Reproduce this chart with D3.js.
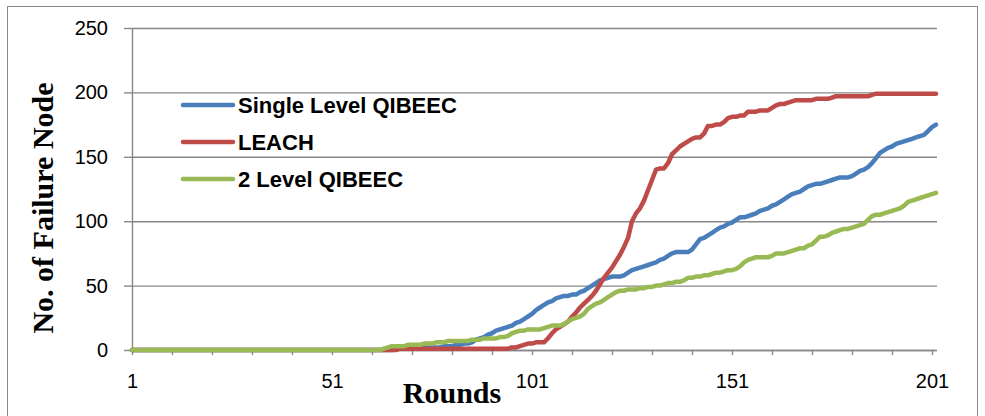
<!DOCTYPE html>
<html>
<head>
<meta charset="utf-8">
<script src="https://cdn.jsdelivr.net/npm/d3@7"></script>
<style>
  html, body { margin: 0; padding: 0; background: #fff; }
  svg { display: block; }
</style>
</head>
<body>
<svg id="chart" width="985" height="416"></svg>
<script>
// Failed nodes per round for each protocol (rounds 1..202)
const rounds = Array.from({ length: 202 }, (_, i) => i + 1);

const singleLevel = [
  0,0,0,0,0,0,0,0,0,0,0,0,0,0,0,0,0,0,0,0,0,0,0,0,0,0,0,0,0,0,0,0,0,0,0,0,0,0,0,0,
  0,0,0,0,0,0,0,0,0,0,0,0,0,0,0,0,0,0,0,0,0,0,0,
  0,0,0,1,1,1,1,
  1,1,2,2,2,2,2,2,3,3,
  3,4,4,5,5,6,8,
  9,10,12,13,15,16,17,
  18,19,21,22,24,26,28,
  31,33,35,37,38,40,41,42,42,
  43,43,45,46,48,50,52,54,55,56,
  57,57,57,58,60,
  62,63,64,65,66,67,68,70,71,73,
  75,76,76,76,76,
  78,82,86,
  87,89,91,93,95,96,98,
  99,101,103,103,104,
  105,106,108,109,110,
  112,113,115,117,119,121,122,123,
  125,127,128,129,129,130,131,
  132,133,134,134,134,135,137,
  139,140,142,145,149,153,155,157,
  158,160,161,162,163,164,165,166,167,170,173,175
];

const leach = [
  0,0,0,0,0,0,0,0,0,0,0,0,0,0,0,0,0,0,0,0,0,0,0,0,0,0,0,0,0,0,0,0,0,0,0,0,0,0,0,0,
  0,0,0,0,0,0,0,0,0,0,0,0,0,0,0,0,0,0,0,0,0,0,0,
  0,0,0,0,1,1,1,1,1,1,1,1,1,1,1,1,1,
  1,1,1,1,1,1,1,1,1,1,1,1,1,1,1,2,2,
  3,4,5,5,6,6,6,
  9,13,16,18,20,22,26,29,
  33,36,39,42,46,51,56,60,
  64,69,74,80,87,100,
  106,110,116,124,132,140,
  141,141,145,152,155,158,
  160,162,164,165,165,168,174,
  174,175,175,177,180,
  181,181,182,182,185,
  185,185,186,186,186,
  188,190,191,191,192,193,194,
  194,194,194,194,195,195,195,195,196,
  197,197,197,197,197,197,197,197,197,198,199,
  199,199,199,199,199,199,199,199,199,199,199,199,199,199,199
];

const twoLevel = [
  0,0,0,0,0,0,0,0,0,0,0,0,0,0,0,0,0,0,0,0,0,0,0,0,0,0,0,0,0,0,0,0,0,0,0,0,0,0,0,0,
  0,0,0,0,0,0,0,0,0,0,0,0,0,0,0,0,0,0,0,0,0,0,0,
  1,2,3,3,3,3,4,
  4,4,4,5,5,5,6,6,6,7,
  7,7,7,7,7,8,8,8,9,9,
  9,9,10,10,11,13,14,
  15,15,16,16,16,16,
  17,18,19,19,19,20,22,
  24,25,26,28,32,34,
  36,37,39,41,43,45,46,46,
  47,47,47,48,48,49,49,50,50,51,
  52,52,53,53,54,56,
  56,57,57,58,58,59,60,60,
  61,62,62,63,65,68,70,
  71,72,72,72,72,73,
  75,75,75,76,77,78,79,79,
  81,82,85,88,88,89,
  91,92,93,94,94,95,96,97,98,101,104,
  105,105,106,107,108,109,110,112,115,116,117,118,119,120,121,122
];

const seriesNames = ["Single Level QIBEEC", "LEACH", "2 Level QIBEEC"];
const seriesColors = ["#4a7ebb", "#be4b48", "#98b954"];
const yTicks = [0, 50, 100, 150, 200, 250];
const xTicks = [1, 11, 21, 31, 41, 51, 61, 71, 81, 91, 101, 111, 121, 131, 141, 151, 161, 171, 181, 191, 201];
const xLabels = [1, 51, 101, 151, 201];

const series = [singleLevel, leach, twoLevel].map((values, i) => ({
  name: seriesNames[i], color: seriesColors[i], values
}));

const svg = d3.select("#chart");
const gridColor = "#878787";
const tickFont = "'Liberation Sans', Arial, sans-serif";
const titleFont = "'Liberation Serif', 'Times New Roman', serif";

// outer chart frame
svg.append("rect")
  .attr("x", 7.5).attr("y", 6.5)
  .attr("width", 970).attr("height", 420)
  .attr("fill", "none").attr("stroke", "#8a8a8a").attr("stroke-width", 1);

const x = d3.scaleLinear().domain([1, 202]).range([132, 936]);
const y = d3.scaleLinear().domain([0, 250]).range([350, 28]);

// horizontal gridlines
svg.append("g")
  .attr("transform", "translate(132,0)")
  .call(d3.axisRight(y).tickValues(yTicks).tickSize(805).tickFormat(""))
  .call(g => g.select(".domain").remove())
  .call(g => g.selectAll("line").attr("stroke", gridColor).attr("stroke-width", 1.4));

// y axis with ticks and labels
svg.append("g")
  .attr("transform", "translate(132,0)")
  .call(d3.axisLeft(y).tickValues(yTicks).tickSize(8).tickSizeOuter(0).tickPadding(16))
  .call(g => g.select(".domain").attr("stroke", gridColor).attr("stroke-width", 1.4))
  .call(g => g.selectAll("line").attr("stroke", gridColor).attr("stroke-width", 1.4))
  .call(g => g.selectAll("text")
    .attr("font-family", tickFont).attr("font-size", 20).attr("fill", "#000"));

// x axis
svg.append("g")
  .attr("transform", "translate(0,350)")
  .call(d3.axisBottom(x).tickValues(xTicks).tickSize(5).tickSizeOuter(0).tickPadding(19)
    .tickFormat(d => xLabels.includes(d) ? d : ""))
  .call(g => g.select(".domain").attr("stroke", gridColor).attr("stroke-width", 1.6)
    .attr("d", "M132,0.5H937"))
  .call(g => g.selectAll("line").attr("stroke", gridColor).attr("stroke-width", 1.4))
  .call(g => g.selectAll("text")
    .attr("font-family", tickFont).attr("font-size", 20).attr("fill", "#000"));

// series lines
const line = d3.line()
  .x((d, i) => x(rounds[i]))
  .y(d => y(d));

svg.append("g").selectAll("path")
  .data(series)
  .join("path")
  .attr("d", d => line(d.values))
  .attr("fill", "none")
  .attr("stroke", d => d.color)
  .attr("stroke-width", 4.5)
  .attr("stroke-linejoin", "round")
  .attr("stroke-linecap", "round");

// legend
const legend = svg.append("g").selectAll("g")
  .data(series)
  .join("g")
  .attr("transform", (d, i) => `translate(183,${105 + i * 37})`);
legend.append("line")
  .attr("x1", 0).attr("x2", 50)
  .attr("stroke", d => d.color).attr("stroke-width", 4.5)
  .attr("stroke-linecap", "round");
legend.append("text")
  .attr("x", 55).attr("y", 0).attr("dy", "0.36em")
  .attr("font-family", tickFont).attr("font-weight", "bold").attr("font-size", 22)
  .attr("fill", "#000")
  .text(d => d.name);

// axis titles
svg.append("text")
  .attr("x", 452).attr("y", 403)
  .attr("text-anchor", "middle")
  .attr("font-family", titleFont).attr("font-weight", "bold").attr("font-size", 30)
  .text("Rounds");

svg.append("text")
  .attr("transform", "translate(53,208) rotate(-90)")
  .attr("text-anchor", "middle")
  .attr("font-family", titleFont).attr("font-weight", "bold").attr("font-size", 30)
  .text("No. of Failure Node");
</script>
</body>
</html>
